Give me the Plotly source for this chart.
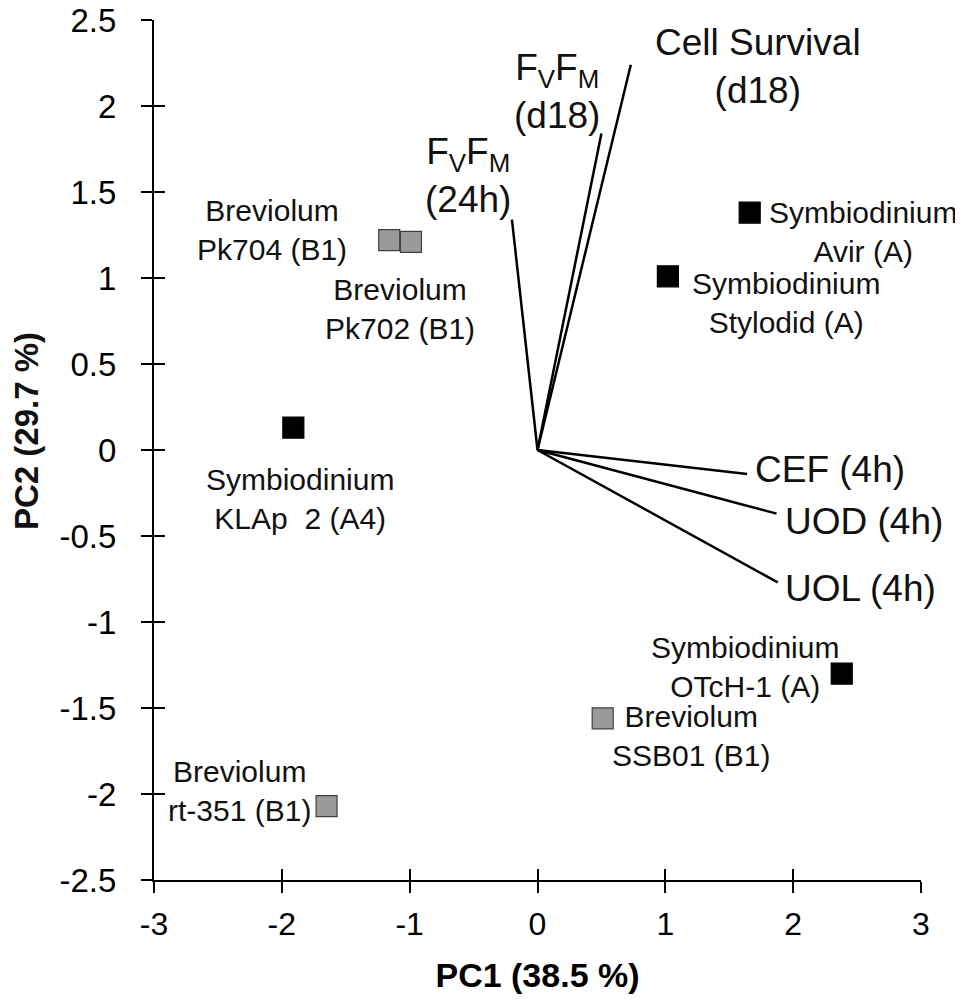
import plotly.graph_objects as go

# sample scores (PC1, PC2)
strains = ["Symbiodinium<br>Avir (A)", "Symbiodinium<br>Stylodid (A)", "Symbiodinium<br>KLAp  2 (A4)",
           "Symbiodinium<br>OTcH-1 (A)", "Breviolum<br>Pk704 (B1)", "Breviolum<br>Pk702 (B1)",
           "Breviolum<br>SSB01 (B1)", "Breviolum<br>rt-351 (B1)"]
genus = ["Symbiodinium", "Symbiodinium", "Symbiodinium", "Symbiodinium",
         "Breviolum", "Breviolum", "Breviolum", "Breviolum"]
pc1 = [1.66, 1.02, -1.91, 2.38, -1.16, -0.99, 0.51, -1.65]
pc2 = [1.38, 1.01, 0.13, -1.30, 1.22, 1.21, -1.56, -2.07]

# loading vectors
variables = ["F<sub>V</sub>F<sub>M</sub><br>(24h)", "F<sub>V</sub>F<sub>M</sub><br>(d18)",
             "Cell Survival<br>(d18)", "CEF (4h)", "UOD (4h)", "UOL (4h)"]
load1 = [-0.20, 0.50, 0.73, 1.64, 1.87, 1.88]
load2 = [1.34, 1.84, 2.24, -0.14, -0.37, -0.77]

# tick labels (plain hyphen minus like the original)
xticks = [-3, -2, -1, 0, 1, 2, 3]
xticklabels = ["-3", "-2", "-1", "0", "1", "2", "3"]
yticks = [-2.5, -2, -1.5, -1, -0.5, 0, 0.5, 1, 1.5, 2, 2.5]
yticklabels = ["-2.5", "-2", "-1.5", "-1", "-0.5", "0", "0.5", "1", "1.5", "2", "2.5"]

FONT = "Liberation Sans, Arial, sans-serif"
colors = {"Symbiodinium": "black", "Breviolum": "#9a9a9a"}
edges = {"Symbiodinium": "black", "Breviolum": "#404040"}

fig = go.Figure()

# vectors from the origin
vx, vy = [], []
for a, b in zip(load1, load2):
    vx += [0, a, None]
    vy += [0, b, None]
fig.add_trace(go.Scatter(x=vx, y=vy, mode="lines", line=dict(color="black", width=2.5),
                         hoverinfo="skip", showlegend=False))

for g in ["Symbiodinium", "Breviolum"]:
    idx = [i for i, k in enumerate(genus) if k == g]
    fig.add_trace(go.Scatter(
        x=[pc1[i] for i in idx], y=[pc2[i] for i in idx], mode="markers",
        marker=dict(symbol="square", size=21, color=colors[g],
                    line=dict(color=edges[g], width=1.2)),
        text=[strains[i] for i in idx], showlegend=False))

# invisible trace for the second (inside-tick) axes
fig.add_trace(go.Scatter(x=[0], y=[0], xaxis="x2", yaxis="y2", mode="markers",
                         marker=dict(opacity=0), hoverinfo="skip", showlegend=False))

# strain labels: offsets in pixels from the marker
strain_shift = [(113, -19), (118, -27), (7, -71), (-97, 7),
                (-117, 10), (-11, -67), (88, -18), (-87, 15)]
for s, x, y, (dx, dy) in zip(strains, pc1, pc2, strain_shift):
    fig.add_annotation(x=x, y=y, text=s, showarrow=False, xshift=dx, yshift=dy,
                       xanchor="center", yanchor="middle", align="center",
                       font=dict(size=30, family=FONT, color="#111"))

# variable labels
var_shift = [(-44, 44, "center"), (-44, 42, "center"), (127, -2, "center"),
             (6, 5, "left"), (6, -8, "left"), (5, -6, "left")]
for v, x, y, (dx, dy, anc) in zip(variables, load1, load2, var_shift):
    fig.add_annotation(x=x, y=y, text=v, showarrow=False, xshift=dx, yshift=dy,
                       xanchor=anc, yanchor="middle", align="center",
                       font=dict(size=37, family=FONT, color="#111"))

# y axis title (sits a little above the middle in the original)
fig.add_annotation(xref="paper", yref="paper", x=0, y=0.5, xshift=-128, yshift=19,
                   text="<b>PC2 (29.7 %)</b>", textangle=-90, showarrow=False,
                   xanchor="center", yanchor="middle", borderpad=0,
                   font=dict(size=33, family=FONT, color="#111"))

axis_common = dict(showgrid=False, zeroline=False, color="black", ticklen=11, tickwidth=2,
                   tickcolor="black", automargin=False, ticklabeloverflow="allow")
fig.update_layout(
    width=955, height=992,
    margin=dict(l=146, r=42, t=12, b=120),
    paper_bgcolor="white", plot_bgcolor="white",
    font=dict(family=FONT, color="#111"),
    xaxis=dict(range=[-3, 3], tickvals=xticks, ticktext=xticklabels, ticks="outside",
               showline=True, linewidth=2, linecolor="black", tickfont=dict(size=32),
               ticklabelstandoff=4,
               title=dict(text="<b>PC1 (38.5 %)</b>", font=dict(size=34), standoff=22),
               **axis_common),
    yaxis=dict(range=[-2.5, 2.5], tickvals=yticks, ticktext=yticklabels, ticks="outside",
               showline=True, linewidth=2, linecolor="black", tickfont=dict(size=33),
               ticklabelstandoff=18, **axis_common),
    xaxis2=dict(range=[-3, 3], tickvals=xticks, ticks="inside", overlaying="x",
                showticklabels=False, showline=False, side="bottom", anchor="y2", **axis_common),
    yaxis2=dict(range=[-2.5, 2.5], tickvals=yticks, ticks="inside", overlaying="y",
                showticklabels=False, showline=False, side="left", anchor="x2", **axis_common),
)

fig.write_html("out.html")
